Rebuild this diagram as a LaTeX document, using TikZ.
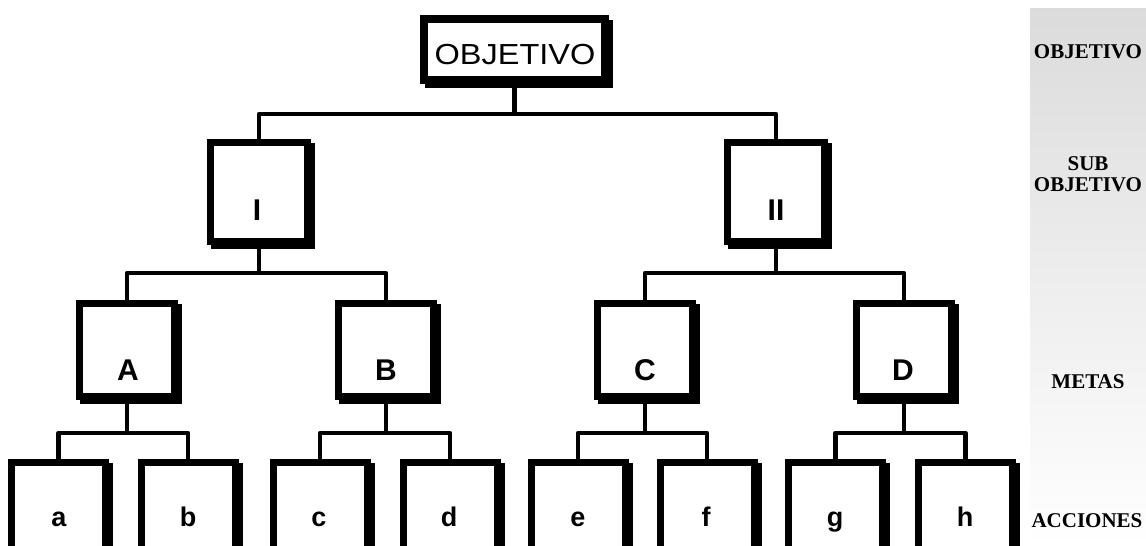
\documentclass[tikz,border=0pt]{standalone}
\usepackage{fontspec}
\setmainfont{Liberation Sans}
\newfontfamily\labelserif{Liberation Serif}
\usetikzlibrary{shadows}
\begin{document}
\begin{tikzpicture}[x=1pt,y=-1pt,
  treebox/.style={draw=black, fill=white, line width=7pt, inner sep=0pt,
    minimum width=#1, line join=miter,
    drop shadow={shadow xshift=4pt, shadow yshift=-4pt, fill=black,
      draw=black, line width=7pt, opacity=1}},
  topbox/.style={treebox=181pt, minimum height=61pt, line width=8pt},
  subbox/.style={treebox=97pt, minimum height=99pt},
  metabox/.style={treebox=95pt, minimum height=93pt},
  actbox/.style={treebox=94pt, minimum height=100pt},
  conn/.style={draw=black, line width=4.5pt, line join=round},
  topfont/.style={font=\fontsize{29}{30}\selectfont, anchor=base, inner sep=0pt},
  capfont/.style={font=\fontsize{30}{32}\selectfont\bfseries, anchor=base, inner sep=0pt},
  lowfont/.style={font=\fontsize{27}{30}\selectfont\bfseries, anchor=base, inner sep=0pt},
  levelfont/.style={font=\labelserif\fontsize{21}{21}\selectfont\bfseries, align=center, inner sep=0pt}
]
\useasboundingbox (0,0) rectangle (1146,546);
\clip (0,0) rectangle (1146,546);

% level panel on the right
\shade[top color=black!14, bottom color=white] (1030,8) rectangle (1146,546);
\node[levelfont] (lvObj) at (1088,52) {OBJETIVO};
\node[levelfont] (lvSub) at (1088,174) {SUB\\OBJETIVO};
\node[levelfont] (lvMet) at (1088,382) {METAS};
\node[levelfont] (lvAcc) at (1087,521) {ACCIONES};

% junction points of the buses
\coordinate (j0) at (514.5,114);
\coordinate (jI) at (259,273);
\coordinate (jII) at (776,273);
\coordinate (jA) at (127,433);
\coordinate (jB) at (386,433);
\coordinate (jC) at (645,433);
\coordinate (jD) at (904,433);

% boxes
\node[topbox] (O) at (514.5,49.5) {};
\node[subbox] (I) at (259,192) {};
\node[subbox] (II) at (776,192) {};
\node[metabox] (A) at (127,350) {};
\node[metabox] (B) at (386,350) {};
\node[metabox] (C) at (645,350) {};
\node[metabox] (D) at (904,350) {};
\node[actbox] (a) at (58.5,512) {};
\node[actbox] (b) at (188,512) {};
\node[actbox] (c) at (320,512) {};
\node[actbox] (d) at (450,512) {};
\node[actbox] (e) at (578,512) {};
\node[actbox] (f) at (707,512) {};
\node[actbox] (g) at (835.5,512) {};
\node[actbox] (h) at (965.5,512) {};

% connectors
\draw[conn] (O.south) -- (j0);
\draw[conn] (I.north) |- (j0) -| (II.north);
\draw[conn] (I.south) -- (jI);
\draw[conn] (A.north) |- (jI) -| (B.north);
\draw[conn] (II.south) -- (jII);
\draw[conn] (C.north) |- (jII) -| (D.north);
\draw[conn] (A.south) -- (jA);
\draw[conn] (a.north) |- (jA) -| (b.north);
\draw[conn] (B.south) -- (jB);
\draw[conn] (c.north) |- (jB) -| (d.north);
\draw[conn] (C.south) -- (jC);
\draw[conn] (e.north) |- (jC) -| (f.north);
\draw[conn] (D.south) -- (jD);
\draw[conn] (g.north) |- (jD) -| (h.north);

% box texts
\node[topfont] (tO) at (515,64) {\scalebox{1.12}[1]{OBJETIVO}};
\node[capfont] (tI) at (257,220) {I};
\node[capfont] (tII) at (776,220) {II};
\node[capfont] (tA) at (128,380) {A};
\node[capfont] (tB) at (386,380) {B};
\node[capfont] (tC) at (645,380) {C};
\node[capfont] (tD) at (903,380) {D};
\node[lowfont] (ta) at (59,526) {a};
\node[lowfont] (tb) at (188,526) {b};
\node[lowfont] (tc) at (319,526) {c};
\node[lowfont] (td) at (449,526) {d};
\node[lowfont] (te) at (578,526) {e};
\node[lowfont] (tf) at (706,526) {f};
\node[lowfont] (tg) at (835,526) {g};
\node[lowfont] (th) at (965,526) {h};
\end{tikzpicture}
\end{document}
